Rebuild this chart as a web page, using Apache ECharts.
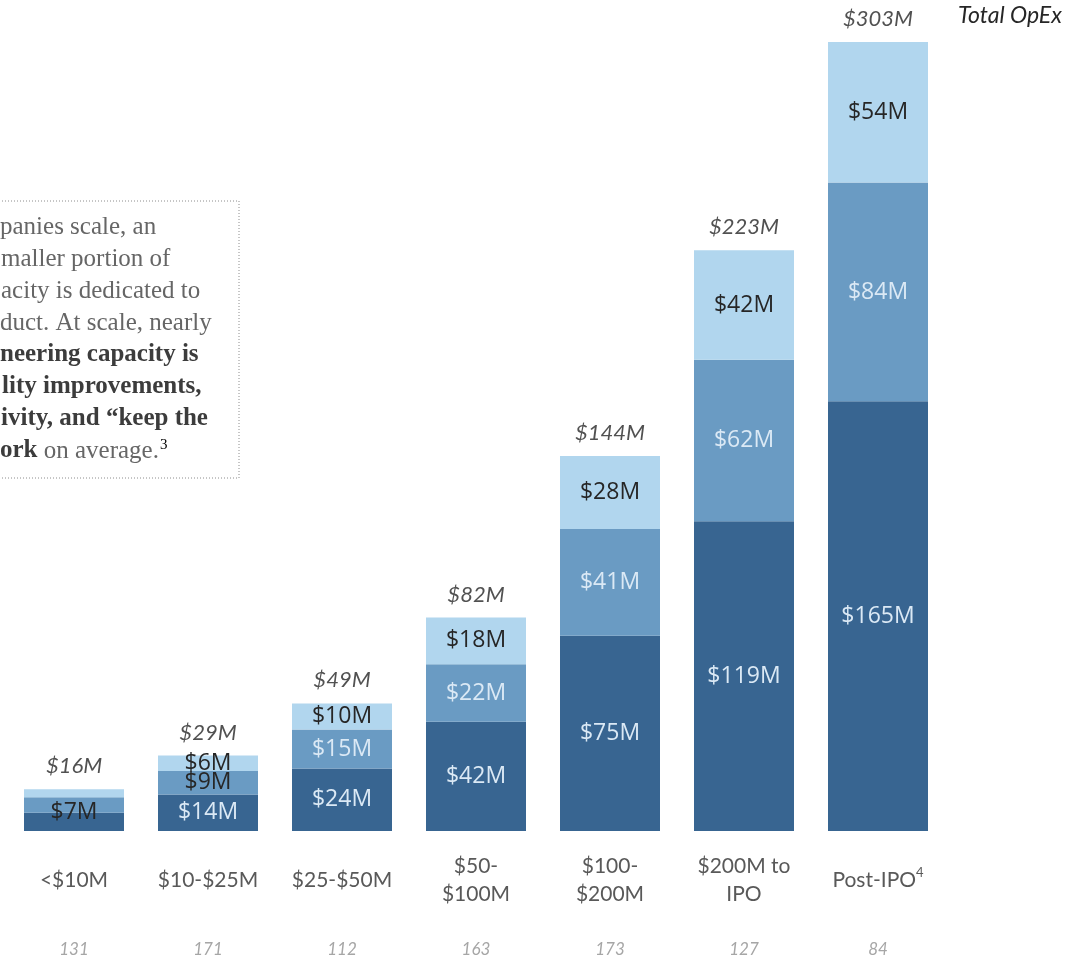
<!DOCTYPE html>
<html>
<head>
<meta charset="utf-8">
<script src="https://cdn.jsdelivr.net/npm/echarts@6/dist/echarts.min.js"></script>
<style>
  html, body { margin: 0; padding: 0; background: #ffffff; }
  #chart { width: 1091px; height: 960px; }
</style>
</head>
<body>
<div id="chart"></div>
<script>
// Revenue bands and respondent counts
const categories = ['<$10M', '$10-$25M', '$25-$50M', '$50-\n$100M', '$100-\n$200M', '$200M to\nIPO', 'Post-IPO'];
const respondents = ['131', '171', '112', '163', '173', '127', '84'];

// OpEx split per band, $M (bottom, middle, top segment of each bar)
const bottomSeg = [7, 14, 24, 42, 75, 119, 165];
const middleSeg = [6, 9, 15, 22, 41, 62, 84];
const topSeg    = [3, 6, 10, 18, 28, 42, 54];

// Total OpEx per band is the sum of the three segments
const totals = categories.map((_, i) => bottomSeg[i] + middleSeg[i] + topSeg[i]);

const COLORS = { bottom: '#386591', middle: '#6a9bc3', top: '#b1d6ee' };
const LIGHT_TEXT = '#dbe9f5';
const DARK_TEXT = '#262626';

// Segment label styling: which labels are hidden or drawn in dark text
function buildData(values, opts) {
  return values.map((v, i) => {
    const item = { value: v };
    const label = {};
    if (opts.hidden && opts.hidden.includes(i)) label.show = false;
    if (opts.dark && opts.dark.includes(i)) label.color = DARK_TEXT;
    if (opts.offset && opts.offset[i]) label.offset = opts.offset[i];
    if (Object.keys(label).length) item.label = label;
    return item;
  });
}

const segLabel = {
  show: true,
  position: 'inside',
  formatter: p => '$' + p.value + 'M',
  fontFamily: 'Open Sans',
  fontSize: 23,
  color: LIGHT_TEXT
};

const chart = echarts.init(document.getElementById('chart'), null, { renderer: 'canvas' });

const SERIF = '"Liberation Serif"';
const NORMAL_FONT = '25px ' + SERIF;
const BOLD_FONT = 'bold 25px ' + SERIF;
const NORMAL_FILL = '#666666';
const BOLD_FILL = '#3c3c3c';

const option = {
  animation: false,
  backgroundColor: '#ffffff',
  grid: { left: 7, right: 146, top: 42, bottom: 129, containLabel: false },
  xAxis: [
    {
      type: 'category',
      data: categories,
      axisLine: { show: false },
      axisTick: { show: false },
      axisLabel: {
        interval: 0,
        margin: 49,
        verticalAlign: 'middle',
        fontFamily: 'Lato',
        fontSize: 21,
        lineHeight: 28,
        color: '#595959',
        formatter: v => v === 'Post-IPO' ? 'Post-IPO{sup|4}' : v,
        rich: {
          sup: { fontSize: 13, fontFamily: 'Lato', color: '#595959', verticalAlign: 'top', padding: [0, 0, 10, 0] }
        }
      }
    },
    {
      type: 'category',
      position: 'bottom',
      data: respondents,
      axisLine: { show: false },
      axisTick: { show: false },
      axisLabel: {
        interval: 0,
        margin: 119,
        verticalAlign: 'middle',
        fontFamily: 'Lato',
        fontStyle: 'italic',
        fontSize: 17,
        color: '#a6a6a6'
      }
    }
  ],
  yAxis: {
    type: 'value',
    min: 0,
    max: 303,
    show: false,
    splitLine: { show: false }
  },
  series: [
    {
      name: 'bottom',
      type: 'bar',
      stack: 'opex',
      barWidth: 100,
      itemStyle: { color: COLORS.bottom },
      label: segLabel,
      data: buildData(bottomSeg, { dark: [0], offset: { 0: [0, -9] } })
    },
    {
      name: 'middle',
      type: 'bar',
      stack: 'opex',
      barWidth: 100,
      itemStyle: { color: COLORS.middle },
      label: segLabel,
      data: buildData(middleSeg, { hidden: [0], dark: [1] })
    },
    {
      name: 'top',
      type: 'bar',
      stack: 'opex',
      barWidth: 100,
      itemStyle: { color: COLORS.top },
      label: Object.assign({}, segLabel, { color: DARK_TEXT }),
      data: buildData(topSeg, { hidden: [0] })
    },
    {
      name: 'total',
      type: 'scatter',
      symbolSize: 0,
      silent: true,
      label: {
        show: true,
        position: 'top',
        distance: 12,
        formatter: p => '$' + p.value + 'M',
        fontFamily: 'Lato',
        fontStyle: 'italic',
        fontSize: 22,
        color: '#262626'
      },
      data: totals
    }
  ],
  graphic: [
    {
      type: 'text',
      left: 958,
      top: 4,
      style: {
        text: 'Total OpEx',
        font: 'italic 23px Lato',
        fill: '#262626'
      }
    },
    {
      type: 'rect',
      shape: { x: -10, y: 201, width: 249, height: 277 },
      style: { fill: 'none', stroke: '#8c8c8c', lineWidth: 1, lineDash: [1, 2] }
    },
    { type: 'text', x: 0, y: 227, style: { text: 'panies scale, an', font: NORMAL_FONT, fill: NORMAL_FILL, verticalAlign: 'middle' } },
    { type: 'text', x: 1, y: 259, style: { text: 'maller portion of', font: NORMAL_FONT, fill: NORMAL_FILL, verticalAlign: 'middle' } },
    { type: 'text', x: 1, y: 291, style: { text: 'acity is dedicated to', font: NORMAL_FONT, fill: NORMAL_FILL, verticalAlign: 'middle' } },
    { type: 'text', x: 0, y: 323, style: { text: 'duct. At scale, nearly', font: NORMAL_FONT, fill: NORMAL_FILL, verticalAlign: 'middle' } },
    { type: 'text', x: 0, y: 355, style: { text: 'neering capacity is', font: BOLD_FONT, fill: BOLD_FILL, verticalAlign: 'middle' } },
    { type: 'text', x: 2, y: 387, style: { text: 'lity improvements,', font: BOLD_FONT, fill: BOLD_FILL, verticalAlign: 'middle' } },
    { type: 'text', x: 1, y: 419, style: { text: 'ivity, and \u201ckeep the', font: BOLD_FONT, fill: BOLD_FILL, verticalAlign: 'middle' } },
    {
      type: 'text', x: 0, y: 451,
      style: {
        text: '{b|ork}{n| on average.}{s|3}',
        verticalAlign: 'middle',
        rich: {
          b: { font: BOLD_FONT, fill: BOLD_FILL, color: BOLD_FILL },
          n: { font: NORMAL_FONT, fill: NORMAL_FILL, color: NORMAL_FILL },
          s: { font: '15px ' + SERIF, color: NORMAL_FILL, verticalAlign: 'top', padding: [0, 0, 12, 1] }
        }
      }
    }
  ]
};

chart.setOption(option);
</script>
</body>
</html>
